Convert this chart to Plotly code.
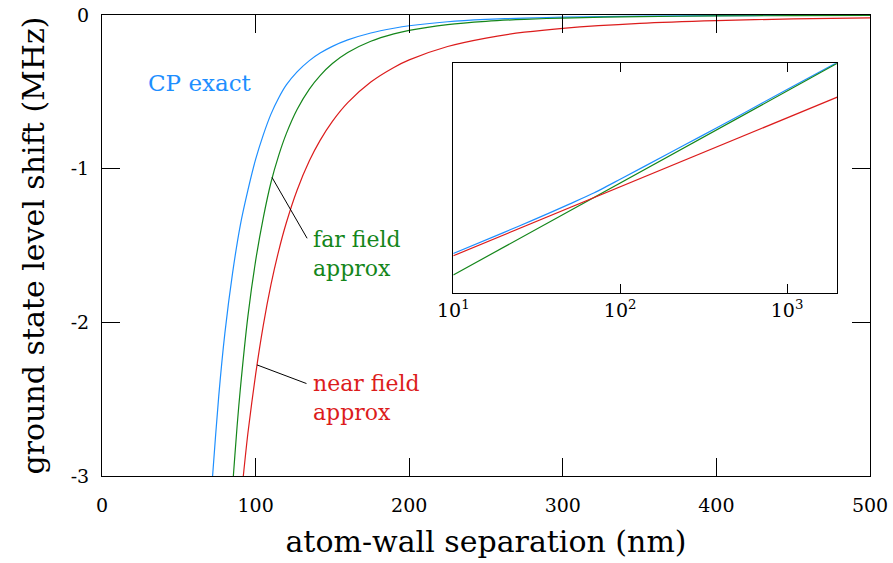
import plotly.graph_objects as go

# ---------------- data ----------------
# main plot: atom-wall separation (nm) vs ground state level shift (MHz)
d_exact = [70, 72, 76, 80, 85, 90, 95, 100, 105, 110, 115, 120, 127, 135, 142, 150,
           160, 175, 190, 200, 225, 250, 275, 300, 350, 400, 450, 500]
shift_exact = [-3.30, -3.00, -2.48, -2.07, -1.68, -1.37, -1.14, -0.94, -0.78, -0.645,
               -0.54, -0.455, -0.37, -0.297, -0.248, -0.204, -0.162, -0.117, -0.086,
               -0.070, -0.044, -0.029, -0.020, -0.014, -0.0076, -0.0045, -0.0028, -0.0018]

d_far = [84, 85, 88, 90, 95, 100, 105, 110, 115, 120, 127, 135, 142, 150, 160, 175,
         190, 200, 225, 250, 275, 300, 350, 400, 450, 500]
shift_far = [-3.21, -3.07, -2.67, -2.44, -1.96, -1.60, -1.32, -1.09, -0.915, -0.772,
             -0.615, -0.482, -0.394, -0.316, -0.244, -0.171, -0.123, -0.100, -0.0624,
             -0.041, -0.028, -0.0198, -0.0107, -0.00625, -0.0039, -0.00256]

d_near = [90, 92, 95, 100, 105, 110, 115, 120, 127, 135, 142, 150, 160, 175, 190, 200,
          225, 250, 275, 300, 350, 400, 450, 500]
shift_near = [-3.20, -3.00, -2.72, -2.34, -2.02, -1.755, -1.536, -1.352, -1.140, -0.949,
              -0.816, -0.692, -0.570, -0.436, -0.341, -0.292, -0.205, -0.150, -0.112,
              -0.0865, -0.0545, -0.0365, -0.0256, -0.0187]

# inset: |shift| (MHz) on log-log axes
d_inset_exact = [10, 20, 30, 50, 70, 100, 200, 300, 500, 1000, 2000]
abs_inset_exact = [1862, 229, 66.1, 12.9, 4.27, 1.10, 0.0759, 0.0158, 2.14e-3, 1.38e-4, 9.12e-6]
d_inset_far = [10, 100, 1000, 2000]
abs_inset_far = [1.6e4, 1.6, 1.6e-4, 1.0e-5]
d_inset_near = [10, 100, 1000, 2000]
abs_inset_near = [2340, 2.34, 2.45e-3, 2.95e-4]

x_ticks = [0, 100, 200, 300, 400, 500]
y_ticks = [0, -1, -2, -3]
y_ticktext = ["0", "-1", "-2", "-3"]
inset_ticks = [10, 100, 1000]
inset_ticktext = ["10<sup>1</sup>", "10<sup>2</sup>", "10<sup>3</sup>"]

# ---------------- style ----------------
BLUE = "#1e8fff"
GREEN = "#14861a"
RED = "#dc1c1c"
FONT = "DejaVu Serif"
LW = 1.2

fig = go.Figure()
fig.add_trace(go.Scatter(x=d_exact, y=shift_exact, mode="lines", line=dict(color=BLUE, width=LW, shape="spline", smoothing=0.8)))
fig.add_trace(go.Scatter(x=d_far, y=shift_far, mode="lines", line=dict(color=GREEN, width=LW, shape="spline", smoothing=0.8)))
fig.add_trace(go.Scatter(x=d_near, y=shift_near, mode="lines", line=dict(color=RED, width=LW, shape="spline", smoothing=0.8)))

fig.add_trace(go.Scatter(x=d_inset_exact, y=abs_inset_exact, mode="lines", xaxis="x2", yaxis="y2",
                         line=dict(color=BLUE, width=LW, shape="spline", smoothing=0.6)))
fig.add_trace(go.Scatter(x=d_inset_far, y=abs_inset_far, mode="lines", xaxis="x2", yaxis="y2",
                         line=dict(color=GREEN, width=LW)))
fig.add_trace(go.Scatter(x=d_inset_near, y=abs_inset_near, mode="lines", xaxis="x2", yaxis="y2",
                         line=dict(color=RED, width=LW)))

fig.update_layout(
    width=893, height=563,
    margin=dict(l=102, r=23, t=15, b=87),
    paper_bgcolor="white", plot_bgcolor="white",
    showlegend=False,
    font=dict(family=FONT, size=20, color="black"),
    xaxis=dict(
        range=[0, 500], tickvals=x_ticks, ticks="inside", ticklen=18, tickwidth=1,
        tickcolor="black", showline=True, linecolor="black", linewidth=1, mirror="ticks",
        showgrid=False, zeroline=False, ticklabelstandoff=12, automargin=False,
        tickfont=dict(family=FONT, size=19),
        title=dict(text="atom-wall separation (nm)", font=dict(family=FONT, size=30), standoff=16),
    ),
    yaxis=dict(
        range=[-3, 0], tickvals=y_ticks, ticktext=y_ticktext, ticks="inside", ticklen=18, tickwidth=1,
        tickcolor="black", showline=True, linecolor="black", linewidth=1, mirror="ticks",
        showgrid=False, zeroline=False, ticklabelstandoff=8, automargin=False,
        tickfont=dict(family=FONT, size=19),
        title=dict(text="ground state level shift (MHz)", font=dict(family=FONT, size=30), standoff=17),
    ),
    xaxis2=dict(
        type="log", range=[1, 3.301], domain=[0.4574, 0.9574], anchor="y2",
        tickvals=inset_ticks, ticktext=inset_ticktext, ticks="inside", ticklen=9,
        tickcolor="black", showline=True, linecolor="black", linewidth=1, mirror="ticks",
        showgrid=False, zeroline=False, tickfont=dict(family=FONT, size=19), automargin=False,
    ),
    yaxis2=dict(
        type="log", range=[5, -5], domain=[0.3963, 0.8952], anchor="x2",
        showticklabels=False, ticks="", showline=True, linecolor="black", linewidth=1,
        mirror=True, showgrid=False, zeroline=False, automargin=False,
    ),
)

# labels
fig.add_annotation(x=28.5, y=-0.44, text="CP exact", showarrow=False, xanchor="left", yanchor="middle",
                   font=dict(family=FONT, size=23, color=BLUE))
fig.add_annotation(x=135.8, y=-1.554, text="far field<br>approx", showarrow=False, xanchor="left",
                   yanchor="middle", align="left", font=dict(family=FONT, size=22, color=GREEN))
fig.add_annotation(x=135.8, y=-2.49, text="near field<br>approx", showarrow=False, xanchor="left",
                   yanchor="middle", align="left", font=dict(family=FONT, size=22, color=RED))
# leader lines
fig.add_annotation(x=110.7, y=-1.057, ax=134.1, ay=-1.463, axref="x", ayref="y", text="",
                   showarrow=True, arrowhead=0, arrowwidth=1, arrowcolor="black")
fig.add_annotation(x=100.9, y=-2.277, ax=134.1, ay=-2.402, axref="x", ayref="y", text="",
                   showarrow=True, arrowhead=0, arrowwidth=1, arrowcolor="black")

fig.write_html("out.html")
